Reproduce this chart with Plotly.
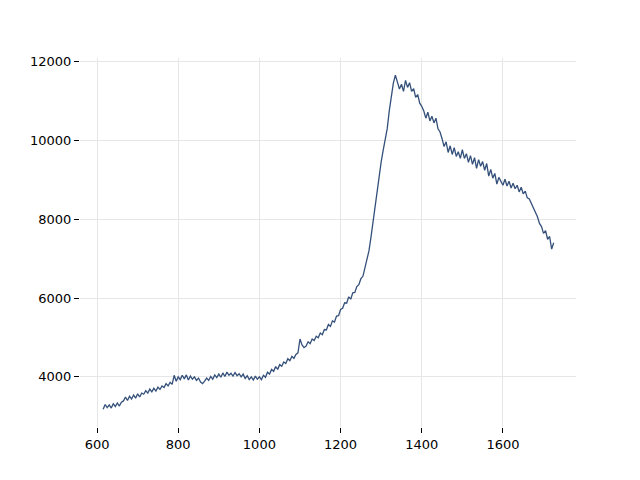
import plotly.graph_objects as go

x_start = 615
x_step = 5
values = [
    3180, 3300, 3220, 3290, 3210, 3320, 3250, 3340, 3260, 3360,
    3390, 3490, 3400, 3510, 3440, 3540, 3460, 3570, 3490, 3590,
    3560, 3650, 3590, 3690, 3620, 3710, 3640, 3740, 3680, 3770,
    3730, 3830, 3770, 3860, 3810, 4040, 3890, 4000, 3930, 4040,
    3950, 4050, 3920, 4020, 3940, 4000, 3910, 3970, 3870, 3830,
    3890, 3970, 3910, 4010, 3940, 4050, 3980, 4070, 3990, 4100,
    4010, 4120, 4040, 4090, 4020, 4110, 4030, 4080, 4000, 4070,
    3960, 4030, 3930, 4000, 3920, 4020, 3940, 4000, 3930, 4040,
    3990, 4120, 4070, 4190, 4140, 4260, 4190, 4310, 4270, 4380,
    4340, 4460, 4410, 4520, 4470, 4570, 4610, 4960, 4810, 4740,
    4780, 4890, 4840, 4960, 4920, 5030, 4990, 5110, 5070, 5200,
    5190, 5330, 5280, 5420, 5390, 5540, 5550, 5710, 5740, 5880,
    5870, 6030, 5970, 6130, 6140, 6290, 6340, 6490, 6550, 6780,
    6980, 7200, 7550, 7950, 8350, 8750, 9150, 9450, 9750, 10050,
    10300, 10750, 11100, 11450, 11650, 11480, 11300, 11420, 11240, 11520,
    11340, 11460, 11240, 11310, 11090, 11160, 10940, 10860, 10740, 10560,
    10710, 10490, 10610, 10440, 10560, 10290, 10210, 10040, 9840, 9960,
    9690, 9860, 9640, 9810, 9590, 9710, 9540, 9760, 9540, 9660,
    9440, 9610, 9390, 9560, 9290, 9510, 9340, 9460, 9240, 9410,
    9090, 9260, 9040, 9160, 8890, 9060, 8940, 8860, 9010, 8840,
    8960, 8790, 8910, 8770, 8860, 8690, 8810, 8640, 8710, 8540,
    8510, 8390, 8310, 8190, 8060, 7890, 7810, 7640, 7710, 7490,
    7560, 7240, 7400,
]
x_values = [x_start + i * x_step for i in range(len(values))]

x_ticks = [600, 800, 1000, 1200, 1400, 1600]
y_ticks = [4000, 6000, 8000, 10000, 12000]

fig = go.Figure()
fig.add_trace(go.Scatter(
    x=x_values, y=values, mode="lines",
    line=dict(color="#34507a", width=1.3),
    showlegend=False,
))

axis_common = dict(
    showline=False, zeroline=False,
    showgrid=True, gridcolor="#e6e6e6", gridwidth=1.2,
    ticks="outside", ticklen=5, tickwidth=1, tickcolor="black",
    tickfont=dict(family="DejaVu Sans", size=13, color="black"),
)

fig.update_layout(
    width=640, height=480, autosize=False,
    margin=dict(l=72, r=72, t=50, b=61),
    paper_bgcolor="white", plot_bgcolor="white",
    xaxis=dict(range=[558, 1780], tickvals=x_ticks,
               ticktext=[str(v) for v in x_ticks], **axis_common),
    yaxis=dict(range=[2729, 12086], tickvals=y_ticks,
               ticktext=[str(v) for v in y_ticks], **axis_common),
)

fig.write_html("out.html")
